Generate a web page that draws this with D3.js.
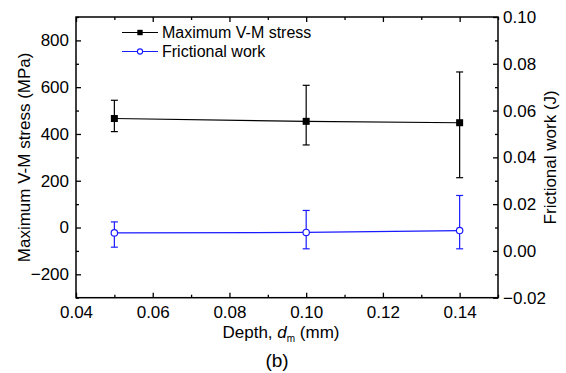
<!DOCTYPE html>
<html>
<head>
<meta charset="utf-8">
<script src="https://cdn.jsdelivr.net/npm/d3@7"></script>
<style>
  html, body { margin: 0; padding: 0; background: #fff; }
  svg { display: block; font-family: Arial, "Liberation Sans", sans-serif; }
</style>
</head>
<body>
<svg id="chart" width="566" height="373"></svg>
<script>
// Depth of the indent (mm)
const depths = [0.05, 0.10, 0.14];

// Maximum von Mises stress (MPa) with error extents
const stressMean = [466, 454, 448];
const stressErrUp = [78, 154, 217];
const stressErrDown = [56, 101, 235];

// Frictional work (J) with error extents
const workMean = [0.0077, 0.0079, 0.0087];
const workErrUp = [0.0047, 0.0094, 0.0150];
const workErrDown = [0.0061, 0.0070, 0.0078];

// Tick values
const xTicks = [0.04, 0.06, 0.08, 0.10, 0.12, 0.14];
const xMinor = [0.05, 0.07, 0.09, 0.11, 0.13, 0.15];
const yLeftTicks = [-200, 0, 200, 400, 600, 800];
const yLeftMinor = [-300, -100, 100, 300, 500, 700, 900];
const yRightTicks = [-0.02, 0.00, 0.02, 0.04, 0.06, 0.08, 0.10];
const yRightMinor = [-0.01, 0.01, 0.03, 0.05, 0.07, 0.09];

const seriesNames = ["Maximum V-M stress", "Frictional work"];

const svg = d3.select("#chart");
const m = { left: 76, right: 498, top: 17, bottom: 297.7 };
const blue = "#1a1aff";

const x = d3.scaleLinear().domain([0.04, 0.15]).range([m.left, m.right]);
const yL = d3.scaleLinear().domain([-300, 900]).range([m.bottom, m.top]);
const yR = d3.scaleLinear().domain([-0.02, 0.10]).range([m.bottom, m.top]);

const fmt2 = d3.format(".2f");

function styleAxis(g) {
  g.select(".domain").remove();
  g.selectAll(".tick line").attr("stroke", "#000").attr("stroke-width", 1.3);
  g.selectAll("text").attr("fill", "#000").style("font-size", "17px");
}

// Bottom axis
svg.append("g").attr("transform", `translate(0,${m.bottom})`)
  .call(d3.axisBottom(x).tickValues(xTicks).tickFormat(fmt2).tickSize(-5).tickPadding(8))
  .call(styleAxis);
svg.append("g").attr("transform", `translate(0,${m.bottom})`)
  .call(d3.axisBottom(x).tickValues(xMinor).tickFormat("").tickSize(-3))
  .call(styleAxis);
// Top axis (ticks only)
svg.append("g").attr("transform", `translate(0,${m.top})`)
  .call(d3.axisTop(x).tickValues(xTicks).tickFormat("").tickSize(-5))
  .call(styleAxis);
svg.append("g").attr("transform", `translate(0,${m.top})`)
  .call(d3.axisTop(x).tickValues(xMinor).tickFormat("").tickSize(-3))
  .call(styleAxis);
// Left axis
svg.append("g").attr("transform", `translate(${m.left},0)`)
  .call(d3.axisLeft(yL).tickValues(yLeftTicks).tickFormat(d3.format("d")).tickSize(-5).tickPadding(7))
  .call(styleAxis);
svg.append("g").attr("transform", `translate(${m.left},0)`)
  .call(d3.axisLeft(yL).tickValues(yLeftMinor).tickFormat("").tickSize(-3))
  .call(styleAxis);
// Right axis
svg.append("g").attr("transform", `translate(${m.right},0)`)
  .call(d3.axisRight(yR).tickValues(yRightTicks).tickFormat(fmt2).tickSize(-5).tickPadding(5))
  .call(styleAxis);
svg.append("g").attr("transform", `translate(${m.right},0)`)
  .call(d3.axisRight(yR).tickValues(yRightMinor).tickFormat("").tickSize(-3))
  .call(styleAxis);

// Frame
svg.append("rect")
  .attr("x", m.left).attr("y", m.top)
  .attr("width", m.right - m.left).attr("height", m.bottom - m.top)
  .attr("fill", "none").attr("stroke", "#000").attr("stroke-width", 1.5);

// Draw one series with error bars
function drawSeries(mean, up, down, y, color, markerType) {
  const pts = depths.map((d, i) => ({ x: d, v: mean[i], hi: mean[i] + up[i], lo: mean[i] - down[i] }));
  const g = svg.append("g");
  g.append("path").datum(pts)
    .attr("d", d3.line().x(p => x(p.x)).y(p => y(p.v)))
    .attr("fill", "none").attr("stroke", color).attr("stroke-width", 1.2);
  const eb = g.selectAll(".eb").data(pts).enter().append("g");
  eb.append("line").attr("x1", p => x(p.x)).attr("x2", p => x(p.x))
    .attr("y1", p => y(p.hi)).attr("y2", p => y(p.lo))
    .attr("stroke", color).attr("stroke-width", 1.2);
  [p => y(p.hi), p => y(p.lo)].forEach(fy => {
    eb.append("line").attr("x1", p => x(p.x) - 3.5).attr("x2", p => x(p.x) + 3.5)
      .attr("y1", fy).attr("y2", fy)
      .attr("stroke", color).attr("stroke-width", 1.2);
  });
  if (markerType === "square") {
    eb.append("rect").attr("x", p => x(p.x) - 3.5).attr("y", p => y(p.v) - 3.5)
      .attr("width", 7).attr("height", 7).attr("fill", color);
  } else {
    eb.append("circle").attr("cx", p => x(p.x)).attr("cy", p => y(p.v)).attr("r", 3.2)
      .attr("fill", "#fff").attr("stroke", color).attr("stroke-width", 1.2);
  }
}
drawSeries(stressMean, stressErrUp, stressErrDown, yL, "#000", "square");
drawSeries(workMean, workErrUp, workErrDown, yR, blue, "circle");

// Legend
const legend = svg.append("g");
const legendRows = [
  { name: seriesNames[0], color: "#000", type: "square", y: 32.5 },
  { name: seriesNames[1], color: blue, type: "circle", y: 51.5 }
];
legendRows.forEach(r => {
  legend.append("line").attr("x1", 122).attr("x2", 158).attr("y1", r.y).attr("y2", r.y)
    .attr("stroke", r.color).attr("stroke-width", 1.2);
  if (r.type === "square") {
    legend.append("rect").attr("x", 140 - 2.7).attr("y", r.y - 2.7).attr("width", 5.4).attr("height", 5.4).attr("fill", r.color);
  } else {
    legend.append("circle").attr("cx", 140).attr("cy", r.y).attr("r", 2.6)
      .attr("fill", "#fff").attr("stroke", r.color).attr("stroke-width", 1.1);
  }
  legend.append("text").attr("x", 162).attr("y", r.y + 5.5)
    .style("font-size", "16px").attr("fill", "#000").text(r.name);
});

// Axis titles
svg.append("text")
  .attr("transform", `translate(30,${(m.top + m.bottom) / 2}) rotate(-90)`)
  .attr("text-anchor", "middle").style("font-size", "17px").text("Maximum V-M stress (MPa)");
svg.append("text")
  .attr("transform", `translate(556,${(m.top + m.bottom) / 2}) rotate(-90)`)
  .attr("text-anchor", "middle").style("font-size", "17px").text("Frictional work (J)");

const xt = svg.append("text").attr("x", 281).attr("y", 338)
  .attr("text-anchor", "middle").style("font-size", "17px");
xt.append("tspan").text("Depth, ");
xt.append("tspan").style("font-style", "italic").text("d");
xt.append("tspan").attr("dy", 4).style("font-size", "10px").text("m");
xt.append("tspan").attr("dy", -4).text(" (mm)");

svg.append("text").attr("x", 277).attr("y", 367)
  .attr("text-anchor", "middle").style("font-size", "19px").text("(b)");
</script>
</body>
</html>
